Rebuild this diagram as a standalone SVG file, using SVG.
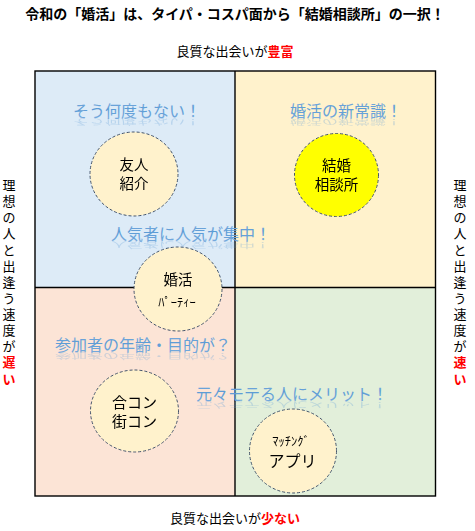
<svg xmlns="http://www.w3.org/2000/svg" xmlns:xlink="http://www.w3.org/1999/xlink" width="475" height="531" viewBox="0 0 475 531">
<defs>
<linearGradient id="blueText" x1="0" y1="0" x2="0" y2="1">
<stop offset="0" stop-color="#8DB4E2"/>
<stop offset="0.45" stop-color="#5B9BD5"/>
<stop offset="1" stop-color="#7EAEDF"/>
</linearGradient>
</defs>
<style>
text{font-family:"Noto Sans CJK JP","Noto Sans",sans-serif;}
.title{font-size:14px;font-weight:bold;fill:#000;text-anchor:middle;}
.axis{font-size:13px;fill:#000;text-anchor:middle;}
.red{fill:#FF0000;font-weight:bold;}
.node ellipse{fill:#FFF2CC;stroke:#44546A;stroke-width:1;stroke-dasharray:3 2;}
.yellow ellipse{fill:#FFFF00;}
.nl{font-size:14.5px;fill:#000;text-anchor:middle;}
.hw{font-size:12.5px;fill:#000;text-anchor:middle;}
.cap{font-size:16px;fill:url(#blueText);text-anchor:middle;}
.refl{opacity:0.3;}
.frame{fill:none;stroke:#000;stroke-width:1.4;}
</style>
<rect width="475" height="531" fill="#FFFFFF"/>

<text class="title" x="235" y="19">令和の「婚活」は、タイパ・コスパ面から「結婚相談所」の一択！</text>
<text class="axis" x="235" y="56">良質な出会いが<tspan class="red">豊富</tspan></text>
<text class="axis" x="235" y="523">良質な出会いが<tspan class="red">少ない</tspan></text>

<g id="quadrants">
<rect x="35" y="71" width="200" height="216.5" fill="#DDEBF7"/>
<rect x="235" y="71" width="200.5" height="216.5" fill="#FFF2CC"/>
<rect x="35" y="287.5" width="200" height="208.5" fill="#FCE4D6"/>
<rect x="235" y="287.5" width="200.5" height="208.5" fill="#E2EFDA"/>
<rect class="frame" x="35" y="71" width="400.5" height="425"/>
<line class="frame" x1="235" y1="71" x2="235" y2="496"/>
<line class="frame" x1="35" y1="287.5" x2="435.5" y2="287.5"/>
</g>

<g id="left-axis" class="axis">
<text x="9" y="190">理</text>
<text x="9" y="206">想</text>
<text x="9" y="222">の</text>
<text x="9" y="238">人</text>
<text x="9" y="255">と</text>
<text x="9" y="271">出</text>
<text x="9" y="287">逢</text>
<text x="9" y="303">う</text>
<text x="9" y="319">速</text>
<text x="9" y="335">度</text>
<text x="9" y="351">が</text>
<text x="9" y="367" class="red">遅</text>
<text x="9" y="384" class="red">い</text>
</g>
<g id="right-axis" class="axis">
<text x="460" y="190">理</text>
<text x="460" y="206">想</text>
<text x="460" y="222">の</text>
<text x="460" y="238">人</text>
<text x="460" y="255">と</text>
<text x="460" y="271">出</text>
<text x="460" y="287">逢</text>
<text x="460" y="303">う</text>
<text x="460" y="319">速</text>
<text x="460" y="335">度</text>
<text x="460" y="351">が</text>
<text x="460" y="367" class="red">速</text>
<text x="460" y="384" class="red">い</text>
</g>

<g id="captions">
<text id="c1" class="cap" x="137" y="117">そう何度もない！</text>
<text id="c2" class="cap" x="346" y="117">婚活の新常識！</text>
<text id="c3" class="cap" x="191" y="240">人気者に人気が集中！</text>
<text id="c4" class="cap" x="143" y="351">参加者の年齢・目的が？</text>
<text id="c5" class="cap" x="292" y="400">元々モテる人にメリット！</text>
</g>
<g id="reflections" class="refl">
<use xlink:href="#c1" href="#c1" transform="translate(0,177) scale(1,-0.5)"/>
<use xlink:href="#c2" href="#c2" transform="translate(0,177) scale(1,-0.5)"/>
<use xlink:href="#c3" href="#c3" transform="translate(0,361.5) scale(1,-0.5)"/>
<use xlink:href="#c4" href="#c4" transform="translate(0,528) scale(1,-0.5)"/>
<use xlink:href="#c5" href="#c5" transform="translate(0,601.5) scale(1,-0.5)"/>
</g>

<g id="node-yujin" class="node">
<ellipse cx="134" cy="174" rx="44" ry="42"/>
<text class="nl" x="134" y="170">友人</text>
<text class="nl" x="134" y="189">紹介</text>
</g>
<g id="node-soudanjo" class="node yellow">
<ellipse cx="336.5" cy="175" rx="42" ry="41.5"/>
<text class="nl" x="336.5" y="171">結婚</text>
<text class="nl" x="336.5" y="190">相談所</text>
</g>
<g id="node-party" class="node">
<ellipse cx="178" cy="289" rx="44" ry="42"/>
<text class="nl" x="178" y="285">婚活</text>
<text class="hw" x="177" y="307">ﾊﾟｰﾃｨｰ</text>
</g>
<g id="node-goukon" class="node">
<ellipse cx="134.5" cy="411" rx="44" ry="41"/>
<text class="nl" x="134.5" y="408" style="font-size:15px">合コン</text>
<text class="nl" x="134.5" y="427" style="font-size:15px">街コン</text>
</g>
<g id="node-app" class="node">
<ellipse cx="293" cy="451" rx="43.5" ry="42"/>
<text class="hw" x="291" y="446">ﾏｯﾁﾝｸﾞ</text>
<text class="nl" x="292.5" y="467" style="font-size:16px">アプリ</text>
</g>
</svg>
